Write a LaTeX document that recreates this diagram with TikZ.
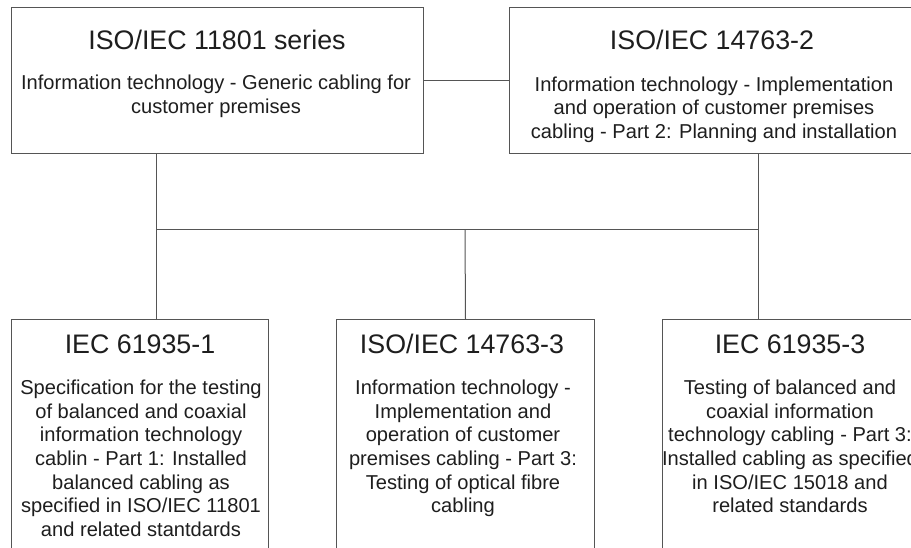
\documentclass[tikz,border=0pt]{standalone}
\usepackage{fontspec}
\setmainfont{Liberation Sans}
\definecolor{linegray}{HTML}{555555}
\definecolor{textgray}{HTML}{1E1E1E}
\begin{document}
\begin{tikzpicture}[x=1pt,y=-1pt,
  box/.style={draw=linegray, line width=1pt, fill=white, inner sep=0pt, anchor=north west},
  ttl/.style={font=\fontsize{26.8}{30}\selectfont, text=textgray, anchor=base, inner sep=0pt},
  body/.style={font=\fontsize{20.1}{23.6}\selectfont, text=textgray, align=center, anchor=north, inner sep=0pt},
  conn/.style={draw=linegray, line width=1pt}]
\useasboundingbox (0,0) rectangle (911,548);
\clip (0,0) rectangle (911,548);
\fill[white] (0,0) rectangle (911,548);

% boxes
\node[box, minimum width=412pt, minimum height=146pt] (b1) at (11,7) {};
\node[box, minimum width=412pt, minimum height=146pt] (b2) at (509,7) {};
\node[box, minimum width=257pt, minimum height=240pt] (b3) at (11,319.5) {};
\node[box, minimum width=258pt, minimum height=240pt] (b4) at (336,319.5) {};
\node[box, minimum width=258pt, minimum height=240pt] (b5) at (662,319.5) {};

% connectors
\coordinate (jl) at (156,230);
\coordinate (jm) at (465,230);
\coordinate (jr) at (758,230);
\draw[conn] (b1.east) -- (b2.west);
\draw[conn] (b1.south -| jl) -- (b3.north -| jl);
\draw[conn] (b2.south -| jr) -- (b5.north -| jr);
\draw[conn] (jl) -- (jr);
\draw[conn] (jm) -- (b4.north);

% texts
\node[ttl] (t1) at (217,50) {ISO/IEC 11801 series};
\node[body] (d1) at (216,75) {Information technology - Generic cabling for\\customer premises};

\node[ttl] (t2) at (712,50) {ISO/IEC 14763-2};
\node[body] (d2) at (714,76.5) {Information technology - Implementation\\and operation of customer premises\\cabling - Part 2: Planning and installation};

\node[ttl] (t3) at (140,353) {IEC 61935-1};
\node[body] (d3) at (141,380) {Specification for the testing\\of balanced and coaxial\\information technology\\cablin - Part 1: Installed\\balanced cabling as\\specified in ISO/IEC 11801\\and related stantdards};

\node[ttl] (t4) at (462,353) {ISO/IEC 14763-3};
\node[body] (d4) at (463,380) {Information technology -\\Implementation and\\operation of customer\\premises cabling - Part 3:\\Testing of optical fibre\\cabling};

\node[ttl] (t5) at (790,353) {IEC 61935-3};
\node[body] (d5) at (790,380) {Testing of balanced and\\coaxial information\\technology cabling - Part 3:\\Installed cabling as specified\\in ISO/IEC 15018 and\\related standards};
\end{tikzpicture}
\end{document}
